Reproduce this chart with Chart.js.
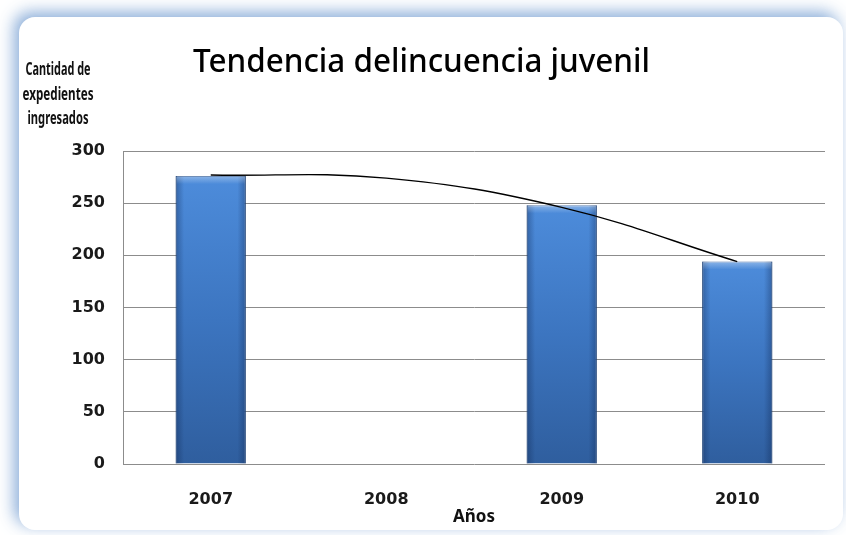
<!DOCTYPE html>
<html><head><meta charset="utf-8">
<script src="https://cdn.jsdelivr.net/npm/chart.js@4.4.1/dist/chart.umd.min.js"></script>
<style>html,body{margin:0;padding:0;background:#fff;overflow:hidden}canvas{display:block}</style>
</head><body>
<canvas id="c" width="846" height="535"></canvas>
<script>
const categories = ['2007', '2008', '2009', '2010'];
const expedientes = [276, null, 248, 194];
const tendencia = [277, 274, 246, 194];
const yTicks = [0, 50, 100, 150, 200, 250, 300];
const titleText = 'Tendencia delincuencia juvenil';
const yTitleLines = ['Cantidad de', 'expedientes', 'ingresados'];
const xTitleText = 'Años';

function fitText(ctx, text, cx, baseY, font, targetW, color) {
  ctx.save();
  ctx.font = font;
  const w = ctx.measureText(text).width;
  const s = targetW / w;
  ctx.translate(cx, baseY);
  ctx.scale(s, 1);
  ctx.textAlign = 'center';
  ctx.textBaseline = 'alphabetic';
  ctx.fillStyle = color;
  ctx.fillText(text, 0, 0);
  ctx.restore();
}

const framePlugin = {
  id: 'frame',
  beforeDraw(chart) {
    const ctx = chart.ctx;
    ctx.save();
    ctx.fillStyle = '#ffffff';
    ctx.fillRect(0, 0, chart.width, chart.height);
    ctx.shadowColor = 'rgba(120,160,210,0.85)';
    ctx.shadowBlur = 16;
    ctx.shadowOffsetX = -5;
    ctx.shadowOffsetY = -5;
    ctx.fillStyle = '#ffffff';
    ctx.beginPath();
    ctx.roundRect(19, 17, 824, 513, 16);
    ctx.fill();
    ctx.restore();
  },
  afterDraw(chart) {
    const ctx = chart.ctx;
    fitText(ctx, titleText, 421.5, 72, '500 33px "Noto Sans"', 457, '#000');
    const bases = [75, 100, 124];
    const widths = [65, 71, 61];
    yTitleLines.forEach((t, i) => fitText(ctx, t, 58, bases[i], 'bold 18px "Noto Sans"', widths[i], '#111'));
  },
  afterDatasetDraw(chart, args) {
    if (args.index !== 0) return;
    const ctx = chart.ctx;
    ctx.save();
    args.meta.data.forEach((el, i) => {
      if (expedientes[i] == null) return;
      const p = el.getProps(['x', 'y', 'base', 'width'], true);
      if (![p.x, p.y, p.base, p.width].every(Number.isFinite)) return;
      const l = p.x - p.width / 2, r = p.x + p.width / 2;
      const g = ctx.createLinearGradient(l, 0, r, 0);
      g.addColorStop(0, 'rgba(10,30,70,0.35)');
      g.addColorStop(0.12, 'rgba(10,30,70,0.0)');
      g.addColorStop(0.88, 'rgba(10,30,70,0.0)');
      g.addColorStop(1, 'rgba(10,30,70,0.35)');
      ctx.fillStyle = g;
      ctx.fillRect(l, p.y, p.width, p.base - p.y);
      const h = ctx.createLinearGradient(0, p.y, 0, p.y + 8);
      h.addColorStop(0, 'rgba(255,255,255,0.35)');
      h.addColorStop(1, 'rgba(255,255,255,0)');
      ctx.fillStyle = h;
      ctx.fillRect(l + 1, p.y, p.width - 2, 8);
    });
    ctx.restore();
  }
};

const tickFont = { family: '"DejaVu Sans"', size: 16, weight: 'bold' };

new Chart(document.getElementById('c'), {
  data: {
    labels: categories,
    datasets: [
      {
        type: 'bar',
        data: expedientes,
        order: 1,
        backgroundColor: (c) => {
          const chart = c.chart;
          const ys = chart.scales && chart.scales.y;
          if (!ys || c.raw == null) return '#3b75c4';
          const top = ys.getPixelForValue(c.raw);
          const bot = ys.getPixelForValue(0);
          if (!Number.isFinite(top) || !Number.isFinite(bot) || top === bot) return '#3b75c4';
          const g = chart.ctx.createLinearGradient(0, top, 0, bot);
          g.addColorStop(0, '#4d8cdb');
          g.addColorStop(0.5, '#3c75c0');
          g.addColorStop(1, '#2f5e9e');
          return g;
        },
        borderColor: '#2d5a96',
        borderWidth: 1,
        barPercentage: 0.4,
        categoryPercentage: 1.0
      },
      {
        type: 'line',
        data: tendencia,
        order: 0,
        borderColor: '#000000',
        borderWidth: 1.4,
        pointRadius: 0,
        tension: 0.4,
        fill: false
      }
    ]
  },
  options: {
    responsive: false,
    animation: false,
    devicePixelRatio: 1,
    layout: { padding: { top: 151, right: 21, bottom: 0, left: 0 } },
    plugins: { legend: { display: false }, title: { display: false }, tooltip: { enabled: false } },
    scales: {
      x: {
        grid: { display: false, drawTicks: false },
        border: { display: false },
        ticks: { padding: 26, color: '#1a1a1a', font: tickFont },
        title: { display: true, text: xTitleText, color: '#111', font: { family: '"Noto Sans"', size: 17, weight: 'bold' }, padding: { top: 0, bottom: 8 } },
        afterFit(s) { s.height = 71; }
      },
      y: {
        min: 0, max: 300,
        grid: { color: '#8c8c8c', lineWidth: 1, drawTicks: false },
        border: { display: true, color: '#8c8c8c', width: 1 },
        ticks: { padding: 18, color: '#1a1a1a', font: tickFont },
        afterBuildTicks(s) { s.ticks = yTicks.map(v => ({ value: v })); },
        afterFit(s) { s.width = 123; }
      }
    }
  },
  plugins: [framePlugin]
});
</script>
</body></html>
